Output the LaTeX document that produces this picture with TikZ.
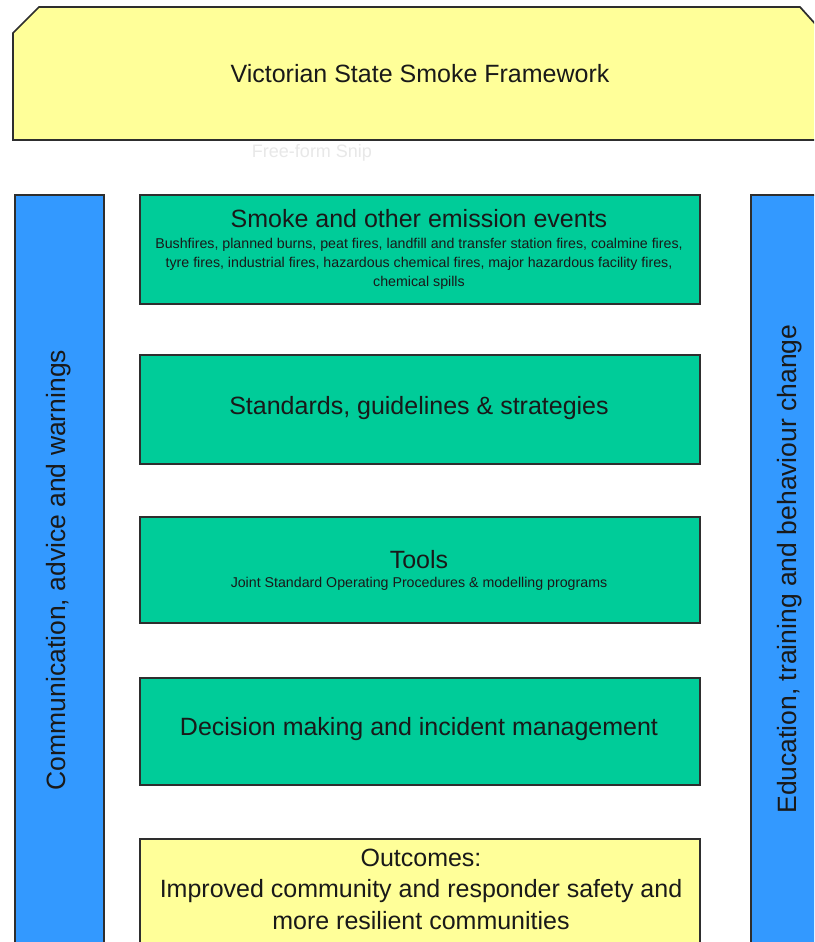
\documentclass[tikz,border=0pt]{standalone}
\usepackage{fontspec}
\setmainfont{Liberation Sans}
\definecolor{bannerY}{HTML}{FFFF99}
\definecolor{boxG}{HTML}{00CC99}
\definecolor{barB}{HTML}{3399FF}
\definecolor{edgeC}{HTML}{2E2E2E}
\begin{document}
\begin{tikzpicture}[x=1pt,y=-1pt,
  frame/.style={draw=edgeC, line width=1.7pt},
  gbox/.style={frame, fill=boxG, anchor=north west, inner sep=0pt, minimum width=560pt},
  ybox/.style={frame, fill=bannerY, anchor=north west, inner sep=0pt, minimum width=560pt},
  bar/.style={frame, fill=barB, anchor=north west, inner sep=0pt},
  big/.style={font=\fontsize{25}{31.5}\selectfont, text=black!90, inner sep=0pt, align=center},
  vert/.style={font=\fontsize{26.5}{32}\selectfont, text=black!90, inner sep=0pt, rotate=90},
  small/.style={font=\fontsize{14.2}{19}\selectfont, text=black!90, inner sep=0pt, align=center}
]
\useasboundingbox (0,0) rectangle (814,942);
\clip (0,0) rectangle (814,942);
\fill[white] (0,0) rectangle (814,942);

% banner
\draw[frame, fill=bannerY] (13,140) -- (13,33) -- (39,7) -- (800,7) -- (818,27) -- (818,140) -- cycle;
\node[big] (title) at (420,74) {Victorian State Smoke Framework};

% faint screenshot artifact
\node[font=\fontsize{18}{20}\selectfont, text=black!9, inner sep=0pt] (snip) at (312,153) {Free-form Snip};

% side bars
\node[bar, minimum width=89pt, minimum height=780pt] (lbar) at (14,194) {};
\node[bar, minimum width=80pt, minimum height=780pt] (rbar) at (750,194) {};
\node[vert] (ltext) at (59,570) {Communication, advice and warnings};
\node[vert] (rtext) at (790,569) {Education, training and behaviour change};

% central boxes
\node[gbox, minimum height=109pt] (b1) at (139,194) {};
\node[big] (b1t) at (419,219) {Smoke and other emission events};
\node[small] (b1s) at (419,264) {Bushfires, planned burns, peat fires, landfill and transfer station fires, coalmine fires,\\tyre fires, industrial fires, hazardous chemical fires, major hazardous facility fires,\\chemical spills};

\node[gbox, minimum height=109pt] (b2) at (139,354) {};
\node[big] (b2t) at (419,408) {Standards, guidelines \& strategies};

\node[gbox, minimum height=106pt] (b3) at (139,516) {};
\node[big] (b3t) at (419,560) {Tools};
\node[small] (b3s) at (419,584) {Joint Standard Operating Procedures \& modelling programs};

\node[gbox, minimum height=107pt] (b4) at (139,677) {};
\node[big] (b4t) at (419,729) {Decision making and incident management};

\node[ybox, minimum height=130pt] (out) at (139,838) {};
\node[big] (outt) at (421,889) {Outcomes:\\Improved community and responder safety and\\more resilient communities};
\end{tikzpicture}
\end{document}
